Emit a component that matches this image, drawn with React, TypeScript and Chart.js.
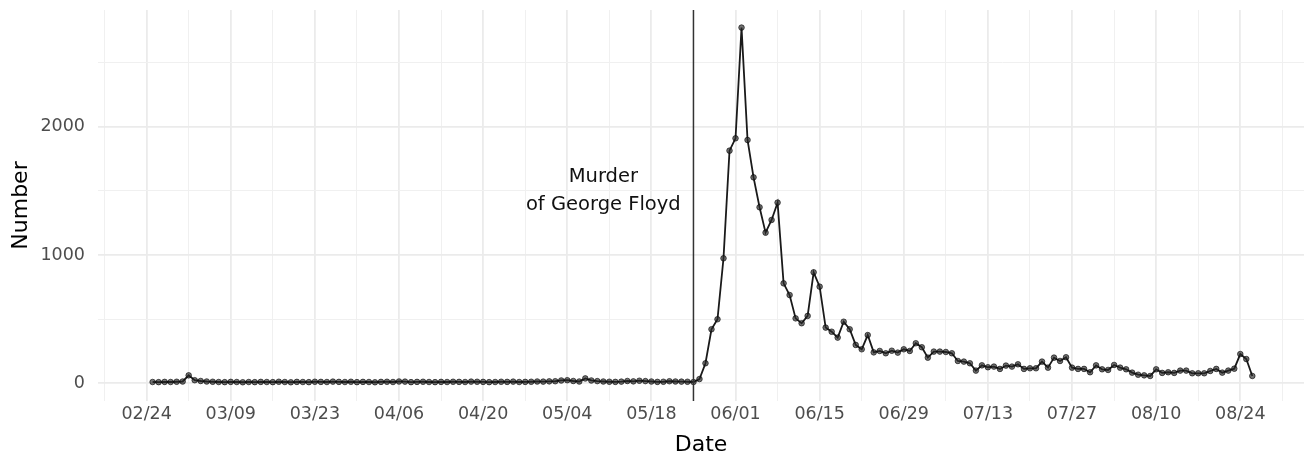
import React, { useEffect, useRef } from "react";
import { Chart, registerables } from "chart.js";

Chart.register(...registerables);

// Day 0 = 02/24; first observation is day 1 (02/25)
const FIRST_DAY = 1;
const TICK_LABELS = ["02/24", "03/09", "03/23", "04/06", "04/20", "05/04", "05/18", "06/01", "06/15", "06/29", "07/13", "07/27", "08/10", "08/24"];
const Y_LABELED = [0, 1000, 2000];
const EVENT_DAY = 91; // 05/25
const EVENT_TEXT = ["Murder", "of George Floyd"];
const EVENT_TEXT_DAY = 76;
const EVENT_TEXT_VALUE = 1500;

const VALUES = [
  10, 9, 11, 10, 12, 14, 62, 24, 18, 14,
  12, 10, 9, 11, 10, 8, 10, 9, 11, 10,
  9, 12, 10, 8, 11, 10, 9, 12, 11, 10,
  13, 11, 10, 12, 9, 11, 10, 8, 11, 12,
  10, 14, 13, 9, 11, 12, 10, 9, 11, 10,
  12, 11, 10, 13, 12, 11, 9, 10, 12, 11,
  13, 10, 11, 12, 14, 13, 15, 16, 22, 24,
  18, 14, 38, 22, 17, 14, 12, 11, 13, 18,
  15, 20, 17, 14, 11, 12, 16, 14, 13, 12, 10,
  33, 156, 421, 499, 974, 1813, 1909, 2772, 1896, 1605,
  1372, 1174, 1273, 1408, 779, 688, 506, 468, 525, 865,
  753, 434, 402, 356, 480, 421, 299, 265, 376, 241,
  252, 234, 254, 239, 265, 252, 312, 281, 200, 247,
  247, 244, 234, 174, 169, 156, 99, 140, 125, 130,
  112, 138, 130, 148, 112, 117, 117, 169, 122, 200,
  174, 203, 122, 112, 112, 86, 140, 109, 104, 143,
  122, 109, 83, 67, 62, 57, 109, 81, 86, 81,
  99, 99, 78, 78, 78, 96, 112, 83, 99, 114,
  228, 189, 57,
];

const FONT = "'DejaVu Sans', sans-serif";

export default function App() {
  const ref = useRef<HTMLCanvasElement | null>(null);

  useEffect(() => {
    document.body.style.margin = "0";
    if (!ref.current) return;

    const eventPlugin = {
      id: "eventLine",
      afterDatasetsDraw(chart: any) {
        const { ctx, chartArea, scales } = chart;
        const x = scales.x.getPixelForValue(EVENT_DAY);
        ctx.save();
        ctx.strokeStyle = "#333333";
        ctx.lineWidth = 1.5;
        ctx.beginPath();
        ctx.moveTo(x, chartArea.top);
        ctx.lineTo(x, chartArea.bottom);
        ctx.stroke();
        const tx = scales.x.getPixelForValue(EVENT_TEXT_DAY);
        const ty = scales.y.getPixelForValue(EVENT_TEXT_VALUE);
        ctx.fillStyle = "#111111";
        ctx.font = `19.5px ${FONT}`;
        ctx.textAlign = "center";
        ctx.textBaseline = "middle";
        const lh = 28;
        EVENT_TEXT.forEach((t, i) => {
          ctx.fillText(t, tx, ty + (i - (EVENT_TEXT.length - 1) / 2) * lh);
        });
        ctx.restore();
      },
    };

    const xTicks: number[] = [];
    for (let d = -7; d <= 189; d += 7) xTicks.push(d);
    const yTicks: number[] = [];
    for (let v = 0; v <= 2500; v += 500) yTicks.push(v);

    const chart = new Chart(ref.current, {
      type: "line",
      data: {
        datasets: [
          {
            data: VALUES.map((v, i) => ({ x: FIRST_DAY + i, y: v })),
            borderColor: "#1a1a1a",
            borderWidth: 1.8,
            pointRadius: 2.8,
            pointBackgroundColor: "rgba(40,40,40,0.65)",
            pointBorderColor: "rgba(0,0,0,0.6)",
            pointBorderWidth: 1,
            tension: 0,
          },
        ],
      },
      options: {
        animation: false,
        responsive: true,
        maintainAspectRatio: false,
        layout: { autoPadding: false, padding: { top: 10, right: 0, left: 0, bottom: 0 } },
        plugins: { legend: { display: false }, tooltip: { enabled: false } },
        scales: {
          x: {
            type: "linear",
            min: -8.09,
            max: 192.6,
            afterBuildTicks: (scale: any) => {
              scale.ticks = xTicks.map((v) => ({ value: v }));
            },
            afterFit: (scale: any) => {
              scale.height = 57;
              scale.paddingLeft = 0;
              scale.paddingRight = 0;
            },
            ticks: {
              autoSkip: false,
              maxRotation: 0,
              minRotation: 0,
              padding: 3,
              color: "#4D4D4D",
              font: { family: FONT, size: 17.5 },
              callback: (v: any) => {
                const n = Number(v);
                if (n % 14 !== 0 || n < 0) return "";
                return TICK_LABELS[n / 14] ?? "";
              },
            },
            grid: {
              drawTicks: false,
              color: (c: any) => (c.tick && c.tick.value % 14 === 0 ? "#EBEBEB" : "#F0F0F0"),
              lineWidth: (c: any) => (c.tick && c.tick.value % 14 === 0 ? 1.8 : 1),
            },
            border: { display: false },
            title: {
              display: true,
              text: "Date",
              color: "#000000",
              font: { family: FONT, size: 22 },
              padding: { top: 0, bottom: 0 },
            },
          },
          y: {
            type: "linear",
            min: -138,
            max: 2909,
            afterBuildTicks: (scale: any) => {
              scale.ticks = yTicks.map((v) => ({ value: v }));
            },
            afterFit: (scale: any) => {
              scale.width = 98;
              scale.paddingTop = 0;
              scale.paddingBottom = 0;
            },
            ticks: {
              autoSkip: false,
              padding: 13,
              color: "#4D4D4D",
              font: { family: FONT, size: 17.5 },
              callback: (v: any) => (Y_LABELED.includes(Number(v)) ? String(v) : ""),
            },
            grid: {
              drawTicks: false,
              color: (c: any) => (c.tick && c.tick.value % 1000 === 0 ? "#EBEBEB" : "#F0F0F0"),
              lineWidth: (c: any) => (c.tick && c.tick.value % 1000 === 0 ? 1.8 : 1),
            },
            border: { display: false },
            title: {
              display: true,
              text: "Number",
              color: "#000000",
              font: { family: FONT, size: 22 },
              padding: { top: 8, bottom: 0 },
            },
          },
        },
      },
      plugins: [eventPlugin],
    });

    return () => chart.destroy();
  }, []);

  return (
    <div style={{ width: 1304, height: 458, position: "relative" }}>
      <canvas ref={ref} />
    </div>
  );
}
